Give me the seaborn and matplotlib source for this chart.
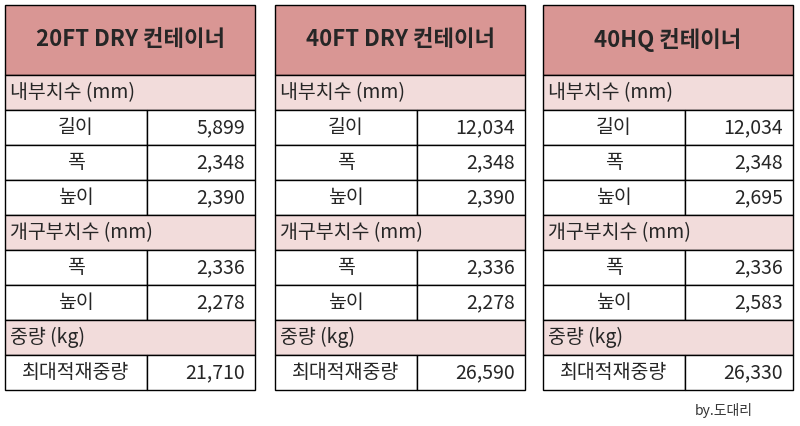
import matplotlib.pyplot as plt
import seaborn as sns
from matplotlib.patches import Rectangle

sns.set_style("white")
plt.rcParams['font.family'] = ['Noto Sans CJK KR', 'DejaVu Sans']

titles = ['20FT DRY 컨테이너', '40FT DRY 컨테이너', '40HQ 컨테이너']
sections = ['내부치수 (mm)', '개구부치수 (mm)', '중량 (kg)']
section_items = [['길이', '폭', '높이'], ['폭', '높이'], ['최대적재중량']]
values = [
    ['5,899', '2,348', '2,390', '2,336', '2,278', '21,710'],
    ['12,034', '2,348', '2,390', '2,336', '2,278', '26,590'],
    ['12,034', '2,348', '2,695', '2,336', '2,583', '26,330'],
]

table_x = [5, 275, 543]
table_w = 250
split_w = 142
head_h = 70
row_h = 35
top = 5
head_color = '#d99694'
sect_color = '#f2dcdb'

fig = plt.figure(figsize=(8, 4.26), dpi=100)
ax = fig.add_axes([0, 0, 1, 1])
ax.set_xlim(0, 800)
ax.set_ylim(426, 0)
ax.axis('off')

for t, x0 in enumerate(table_x):
    ax.add_patch(Rectangle((x0, top), table_w, head_h, fc=head_color, ec='black', lw=1))
    ax.text(x0 + table_w / 2, top + head_h / 2, titles[t], ha='center', va='center',
            fontsize=16, fontweight='bold')
    y = top + head_h
    k = 0
    for s, sec in enumerate(sections):
        ax.add_patch(Rectangle((x0, y), table_w, row_h, fc=sect_color, ec='black', lw=1))
        ax.text(x0 + 5, y + row_h / 2, sec, ha='left', va='center', fontsize=14)
        y += row_h
        for item in section_items[s]:
            ax.add_patch(Rectangle((x0, y), split_w, row_h, fc='white', ec='black', lw=1))
            ax.add_patch(Rectangle((x0 + split_w, y), table_w - split_w, row_h, fc='white', ec='black', lw=1))
            ax.text(x0 + split_w / 2, y + row_h / 2, item, ha='center', va='center', fontsize=14)
            ax.text(x0 + table_w - 10, y + row_h / 2, values[t][k], ha='right', va='center', fontsize=14)
            k += 1
            y += row_h

ax.text(695, 411, 'by.도대리', ha='left', va='center', fontsize=10, color='#333333')

fig.savefig('out.png', dpi=100)
